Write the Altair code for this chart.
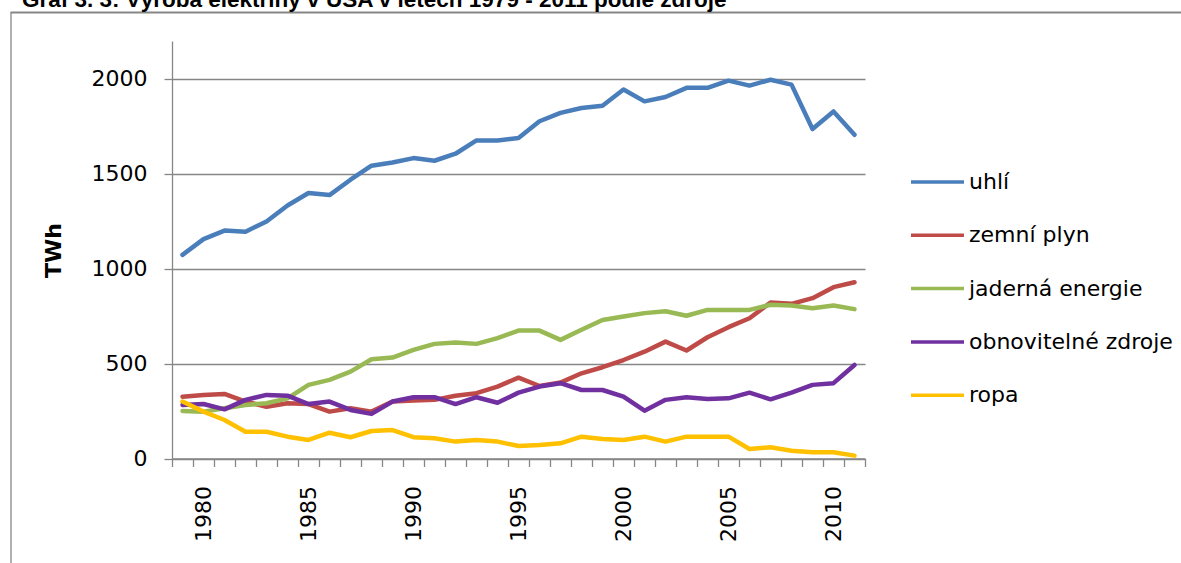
import altair as alt
import pandas as pd

# ---- data (TWh) ----
years = list(range(1979, 2012))
series_names = ["uhlí", "zemní plyn", "jaderná energie", "obnovitelné zdroje", "ropa"]

uhli = [1073, 1156, 1201, 1195, 1249, 1333, 1399, 1388, 1469, 1543, 1560, 1583, 1569, 1606, 1676, 1676, 1689,
        1777, 1821, 1847, 1859, 1944, 1882, 1905, 1953, 1953, 1991, 1965, 1996, 1970, 1736, 1829, 1706]
zemni_plyn = [326, 335, 340, 300, 273, 291, 287, 247, 265, 247, 300, 305, 309, 331, 344, 379, 426,
              382, 400, 449, 481, 519, 563, 616, 569, 639, 692, 739, 822, 815, 845, 903, 929]
jaderna = [250, 247, 265, 282, 291, 317, 388, 414, 458, 523, 532, 572, 604, 611, 604, 634, 674,
           674, 625, 678, 730, 748, 766, 776, 752, 783, 783, 783, 810, 806, 792, 806, 787]
obnovitelne = [282, 287, 259, 309, 335, 331, 287, 300, 256, 235, 300, 323, 323, 287, 323, 294, 347,
               379, 397, 361, 361, 326, 252, 309, 323, 314, 317, 347, 312, 347, 388, 397, 493]
ropa = [300, 247, 203, 141, 141, 115, 98, 136, 112, 145, 150, 112, 107, 89, 98, 89, 66,
        71, 80, 115, 103, 98, 115, 89, 115, 115, 115, 50, 59, 41, 33, 33, 15]

series_colors = ["#4A7EBB", "#BE4B48", "#98B954", "#7030A0", "#FFC000"]
x_label_years = [1980, 1985, 1990, 1995, 2000, 2005, 2010]
y_tick_values = [0, 500, 1000, 1500, 2000]
y_max = 2200
title_text = "Graf 3. 3: Výroba elektřiny v USA v letech 1979 - 2011 podle zdroje"

rows = []
for name, vals in zip(series_names, [uhli, zemni_plyn, jaderna, obnovitelne, ropa]):
    for yr, v in zip(years, vals):
        rows.append({"rok": yr, "TWh": v, "zdroj": name})
df = pd.DataFrame(rows)

# category boundaries (tick marks between years)
boundaries = [y - 0.5 for y in years] + [years[-1] + 0.5]
bdf = pd.DataFrame({"rok": boundaries})

GRAY = "#868686"
FONT = "DejaVu Sans"
W, H = 693, 417.5
PL, PT = 172, 41

x_scale = alt.Scale(domain=[boundaries[0], boundaries[-1]], nice=False, zero=False)
y_scale = alt.Scale(domain=[0, y_max], nice=False)

lines = alt.Chart(df).mark_line(strokeWidth=4.5, strokeJoin="round", strokeCap="round").encode(
    x=alt.X("rok:Q", scale=x_scale,
            axis=alt.Axis(orient="bottom", values=x_label_years, format="d", labelAngle=270,
                          labelFont=FONT, labelFontSize=22, labelColor="black",
                          ticks=False, tickSize=0, domain=False, grid=False,
                          labelPadding=27, title=None, labelOverlap=False)),
    y=alt.Y("TWh:Q", scale=y_scale,
            axis=alt.Axis(values=y_tick_values, format="d", grid=True, gridColor=GRAY, gridWidth=1.3,
                          domainColor=GRAY, domainWidth=1.3, tickColor=GRAY, tickWidth=1.3,
                          tickSize=8, labelPadding=17, labelFont=FONT, labelFontSize=22,
                          labelColor="black", title="TWh", titleFont=FONT, titleFontSize=22,
                          titleFontWeight="bold", titleColor="black", titleAngle=270,
                          titleX=53 - PL, titleY=250 - PT, titleAlign="center",
                          titleBaseline="middle")),
    color=alt.Color("zdroj:N", scale=alt.Scale(domain=series_names, range=series_colors),
                    sort=series_names,
                    legend=alt.Legend(orient="none", legendX=909 - PL, legendY=153.5 - PT,
                                      title=None, symbolType="stroke", symbolSize=2809,
                                      symbolStrokeWidth=3.5, labelFont=FONT, labelFontSize=22,
                                      labelColor="black", labelOffset=3, labelLimit=400,
                                      rowPadding=13.3, padding=0)),
)

tick_axis = alt.Chart(bdf).mark_point(opacity=0).encode(
    x=alt.X("rok:Q", scale=x_scale,
            axis=alt.Axis(orient="bottom", values=boundaries, labels=False, tickSize=8,
                          tickColor=GRAY, tickWidth=1.3, domainColor=GRAY, domainWidth=1.3,
                          grid=False, title=None)),
)

frame_top = alt.Chart(pd.DataFrame({"a": [0]})).mark_rule(color=GRAY, strokeWidth=2).encode(
    x=alt.value(10.5 - PL), x2=alt.value(1181 - PL), y=alt.value(12.5 - PT))
frame_left = alt.Chart(pd.DataFrame({"a": [0]})).mark_rule(color=GRAY, strokeWidth=1.3).encode(
    x=alt.value(11 - PL), y=alt.value(12.5 - PT), y2=alt.value(563 - PT))

title_layer = alt.Chart(pd.DataFrame({"t": [title_text]})).mark_text(
    align="left", baseline="alphabetic", font="Liberation Sans", fontSize=22.5, fontWeight="bold",
    color="black").encode(x=alt.value(22 - PL), y=alt.value(7 - PT), text="t:N")

chart = alt.layer(frame_top, frame_left, title_layer, tick_axis, lines).resolve_axis(
    x="independent").properties(
    width=W, height=H,
    autosize=alt.AutoSizeParams(type="none"),
    padding={"left": PL, "top": PT, "right": 1181 - PL - W, "bottom": 563 - PT - H},
).configure_view(stroke="transparent")

chart.save("out.html", embed_options={"renderer": "svg", "actions": False})
